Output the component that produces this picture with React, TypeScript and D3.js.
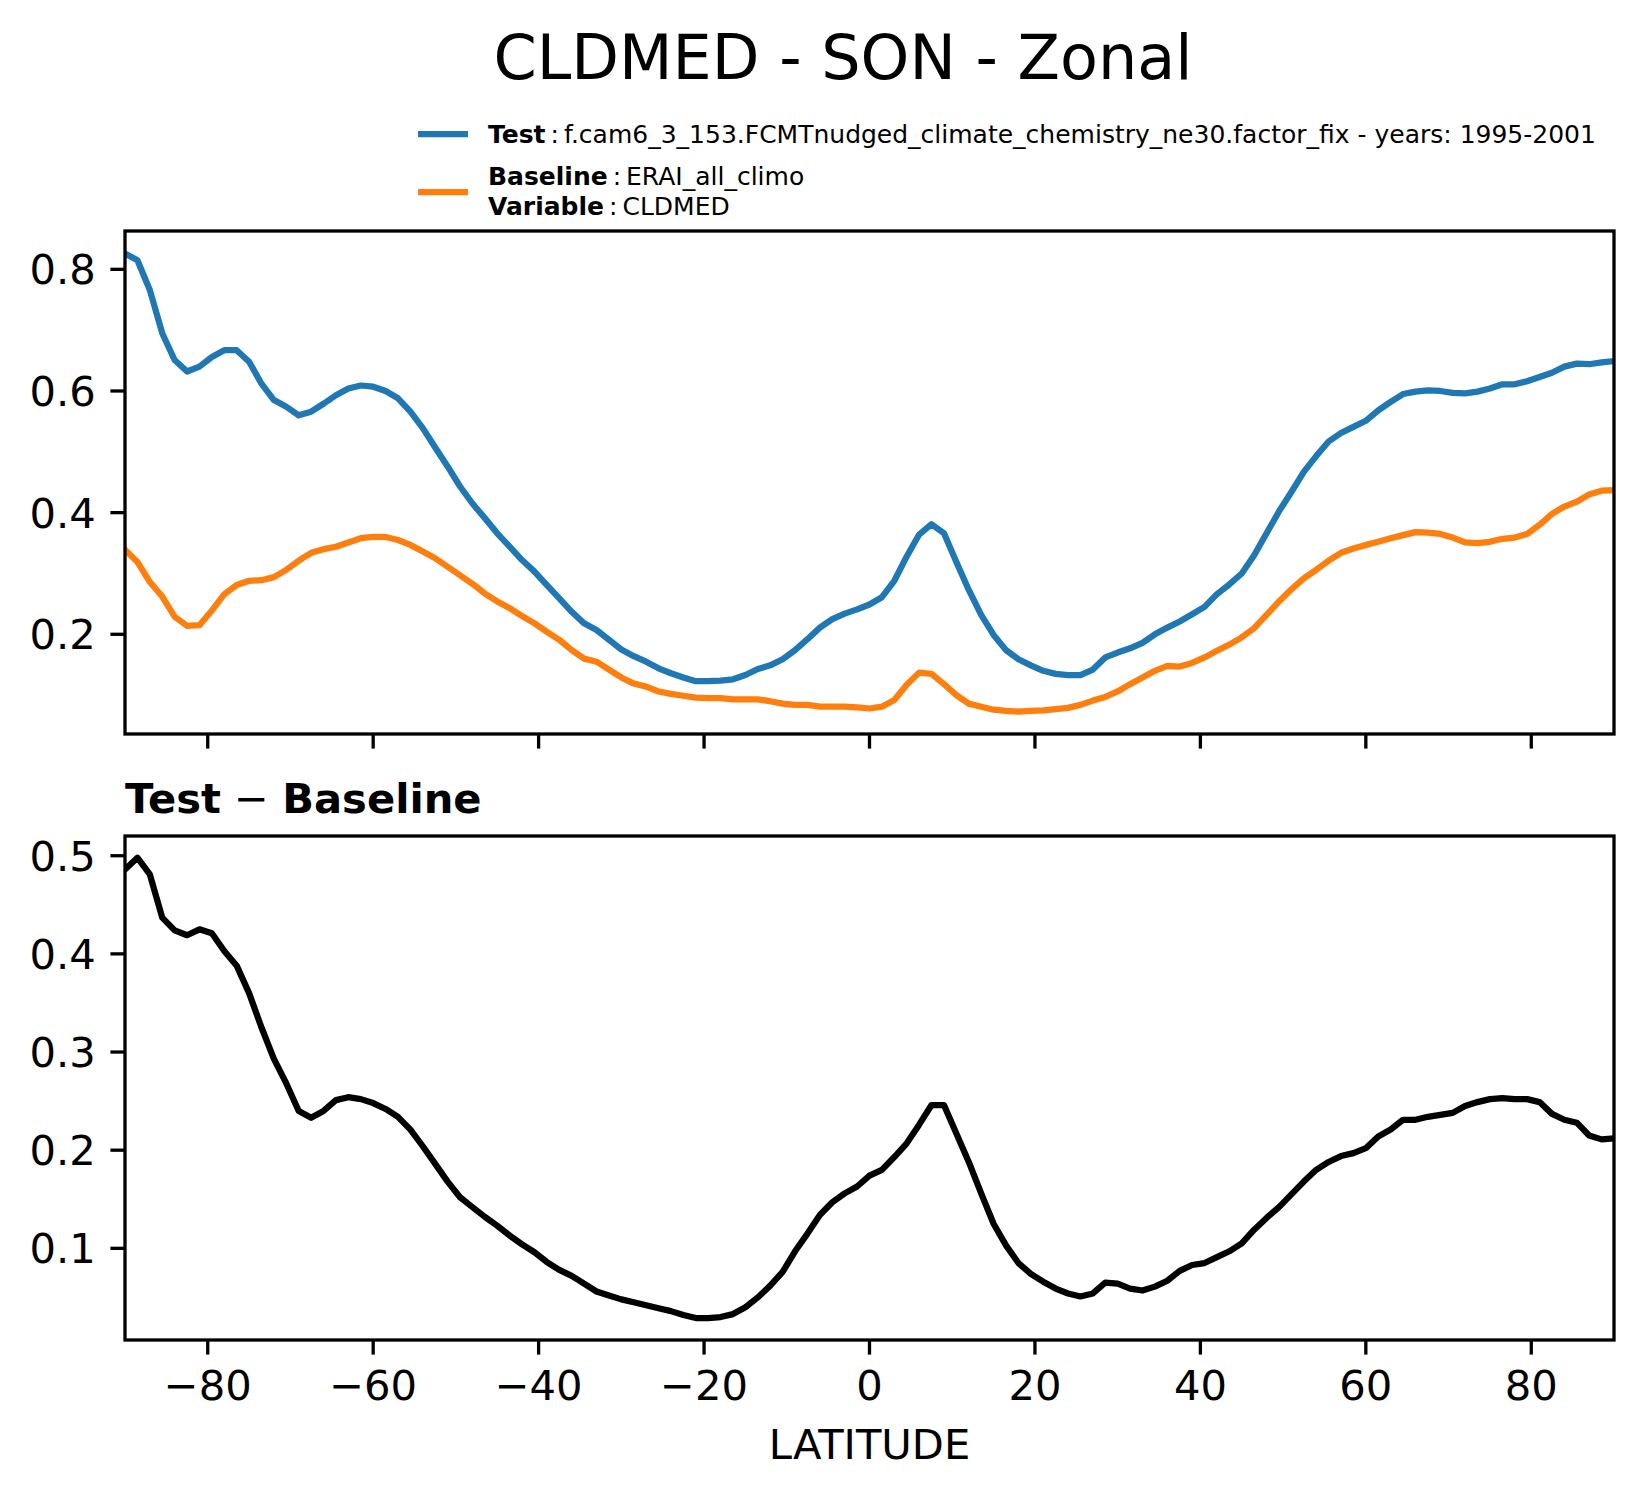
import React from 'react';
import * as d3 from 'd3';

// latitude grid (degrees)
const LAT = [
  -90, -88.5, -87, -85.5, -84, -82.5, -81, -79.5, -78, -76.5,
  -75, -73.5, -72, -70.5, -69, -67.5, -66, -64.5, -63, -61.5,
  -60, -58.5, -57, -55.5, -54, -52.5, -51, -49.5, -48, -46.5,
  -45, -43.5, -42, -40.5, -39, -37.5, -36, -34.5, -33, -31.5,
  -30, -28.5, -27, -25.5, -24, -22.5, -21, -19.5, -18, -16.5,
  -15, -13.5, -12, -10.5, -9, -7.5, -6, -4.5, -3, -1.5,
  0, 1.5, 3, 4.5, 6, 7.5, 9, 10.5, 12, 13.5,
  15, 16.5, 18, 19.5, 21, 22.5, 24, 25.5, 27, 28.5,
  30, 31.5, 33, 34.5, 36, 37.5, 39, 40.5, 42, 43.5,
  45, 46.5, 48, 49.5, 51, 52.5, 54, 55.5, 57, 58.5,
  60, 61.5, 63, 64.5, 66, 67.5, 69, 70.5, 72, 73.5,
  75, 76.5, 78, 79.5, 81, 82.5, 84, 85.5, 87, 88.5,
  90,
];

const TEST = [
  0.826, 0.815, 0.766, 0.695, 0.651, 0.632, 0.640, 0.656, 0.667, 0.667,
  0.648, 0.612, 0.585, 0.574, 0.560, 0.566, 0.579, 0.593, 0.604, 0.609,
  0.607, 0.600, 0.588, 0.566, 0.539, 0.507, 0.476, 0.443, 0.415, 0.391,
  0.366, 0.344, 0.322, 0.303, 0.281, 0.259, 0.237, 0.218, 0.207, 0.191,
  0.175, 0.164, 0.155, 0.144, 0.136, 0.129, 0.123, 0.123, 0.124, 0.126,
  0.133, 0.143, 0.149, 0.159, 0.174, 0.192, 0.211, 0.225, 0.234, 0.241,
  0.249, 0.261, 0.288, 0.328, 0.364, 0.381, 0.366, 0.319, 0.273, 0.232,
  0.199, 0.174, 0.159, 0.149, 0.140, 0.135, 0.133, 0.133, 0.142, 0.162,
  0.170, 0.177, 0.186, 0.200, 0.211, 0.221, 0.233, 0.245, 0.266, 0.282,
  0.300, 0.330, 0.366, 0.402, 0.434, 0.467, 0.493, 0.517, 0.531, 0.541,
  0.551, 0.568, 0.582, 0.595, 0.599, 0.601, 0.600, 0.597, 0.596, 0.599,
  0.604, 0.611, 0.611, 0.616, 0.623, 0.630, 0.640, 0.645, 0.644, 0.647,
  0.649,
];

const BASELINE = [
  0.339, 0.319, 0.286, 0.262, 0.229, 0.214, 0.215, 0.239, 0.266, 0.281,
  0.288, 0.289, 0.294, 0.306, 0.321, 0.334, 0.340, 0.344, 0.351, 0.358,
  0.360, 0.360, 0.355, 0.347, 0.336, 0.325, 0.311, 0.297, 0.283, 0.267,
  0.254, 0.243, 0.230, 0.218, 0.204, 0.191, 0.174, 0.160, 0.155, 0.142,
  0.129, 0.119, 0.114, 0.106, 0.102, 0.099, 0.096, 0.095, 0.095, 0.093,
  0.093, 0.093, 0.090, 0.086, 0.084, 0.084, 0.081, 0.081, 0.081, 0.080,
  0.078, 0.081, 0.092, 0.117, 0.137, 0.135, 0.118, 0.100, 0.086, 0.081,
  0.076, 0.074, 0.073, 0.074, 0.075, 0.077, 0.079, 0.084, 0.091, 0.097,
  0.106, 0.118, 0.129, 0.140, 0.148, 0.147, 0.153, 0.162, 0.173, 0.183,
  0.195, 0.210, 0.232, 0.254, 0.274, 0.292, 0.306, 0.321, 0.334, 0.341,
  0.347, 0.352, 0.358, 0.363, 0.368, 0.367, 0.365, 0.359, 0.351, 0.350,
  0.352, 0.357, 0.359, 0.365, 0.380, 0.398, 0.410, 0.418, 0.430, 0.436,
  0.437,
];

const DIFF = [
  0.486, 0.498, 0.481, 0.437, 0.424, 0.419, 0.425, 0.421, 0.403, 0.388,
  0.360, 0.325, 0.293, 0.268, 0.240, 0.233, 0.240, 0.251, 0.254, 0.252,
  0.248, 0.242, 0.234, 0.221, 0.204, 0.186, 0.168, 0.152, 0.142, 0.132,
  0.123, 0.113, 0.104, 0.096, 0.086, 0.078, 0.072, 0.064, 0.056, 0.052,
  0.048, 0.045, 0.042, 0.039, 0.036, 0.032, 0.029, 0.029, 0.030, 0.033,
  0.040, 0.050, 0.062, 0.076, 0.097, 0.115, 0.134, 0.147, 0.156, 0.163,
  0.174, 0.180, 0.193, 0.207, 0.226, 0.246, 0.246, 0.217, 0.188, 0.156,
  0.125, 0.103, 0.085, 0.074, 0.066, 0.059, 0.054, 0.051, 0.054, 0.065,
  0.064, 0.059, 0.057, 0.061, 0.067, 0.077, 0.083, 0.085, 0.091, 0.097,
  0.105, 0.119, 0.131, 0.142, 0.155, 0.168, 0.180, 0.188, 0.194, 0.197,
  0.202, 0.214, 0.221, 0.231, 0.231, 0.234, 0.236, 0.238, 0.245, 0.249,
  0.252, 0.253, 0.252, 0.252, 0.249, 0.237, 0.231, 0.228, 0.215, 0.211,
  0.212,
];

const X_TICKS = [-80, -60, -40, -20, 0, 20, 40, 60, 80];
const TOP_TICKS = [0.2, 0.4, 0.6, 0.8];
const BOTTOM_TICKS = [0.1, 0.2, 0.3, 0.4, 0.5];

const TITLE = 'CLDMED - SON - Zonal';
const TEST_LABEL = 'f.cam6_3_153.FCMTnudged_climate_chemistry_ne30.factor_fix - years: 1995-2001';
const BASE_LABEL = 'ERAI_all_climo';
const VAR_LABEL = 'CLDMED';

const W = 1643;
const H = 1496;
const FONT = '"DejaVu Sans", Verdana, sans-serif';
const BLUE = '#1f77b4';
const ORANGE = '#ff7f0e';
const LW = 6.25;
const SPINE = 3.3;
const TICK = 14.6;
const PAD = 14.6;
const TICK_FS = 41.67;

const left = 125;
const right = 1614;
const topPanel = { y0: 231, y1: 734 };
const botPanel = { y0: 836, y1: 1340 };

const x = d3.scaleLinear().domain([-90, 90]).range([left, right]);
const yTop = d3.scaleLinear().domain([0.0361, 0.863]).range([topPanel.y1, topPanel.y0]);
const yBot = d3.scaleLinear().domain([0.0066, 0.5201]).range([botPanel.y1, botPanel.y0]);

const fmtX = (v: number) => (v < 0 ? '\u2212' + Math.abs(v) : String(v));

function makeLine(vals: number[], y: d3.ScaleLinear<number, number>) {
  const pts = LAT.map((l, i) => [l, vals[i]] as [number, number]);
  return d3.line<[number, number]>()
    .x(d => x(d[0]))
    .y(d => y(d[1]))(pts) || '';
}

const Panel: React.FC<{
  y0: number; y1: number; yScale: d3.ScaleLinear<number, number>;
  yTicks: number[]; showXLabels: boolean; id: string; children: React.ReactNode;
}> = ({ y0, y1, yScale, yTicks, showXLabels, id, children }) => (
  <g>
    <clipPath id={id}>
      <rect x={left} y={y0} width={right - left} height={y1 - y0} />
    </clipPath>
    <g clipPath={`url(#${id})`}>{children}</g>
    {/* x ticks */}
    {X_TICKS.map(t => (
      <g key={'x' + t}>
        <line x1={x(t)} x2={x(t)} y1={y1} y2={y1 + TICK} stroke="#000" strokeWidth={SPINE} />
        {showXLabels && (
          <text x={x(t)} y={y1 + TICK + PAD + 30.5} textAnchor="middle" fontSize={TICK_FS} fontFamily={FONT}>
            {fmtX(t)}
          </text>
        )}
      </g>
    ))}
    {/* y ticks */}
    {yTicks.map(t => (
      <g key={'y' + t}>
        <line x1={left - TICK} x2={left} y1={yScale(t)} y2={yScale(t)} stroke="#000" strokeWidth={SPINE} />
        <text x={left - TICK - PAD} y={yScale(t) + 15} textAnchor="end" fontSize={TICK_FS} fontFamily={FONT}>
          {t.toFixed(1)}
        </text>
      </g>
    ))}
    <rect x={left} y={y0} width={right - left} height={y1 - y0} fill="none" stroke="#000" strokeWidth={SPINE} />
  </g>
);

const LEG_FS = 25;

export default function App() {
  const legX0 = 418;
  const legX1 = 468;
  const legText = 488;
  return (
    <svg width={W} height={H} viewBox={`0 0 ${W} ${H}`}
      style={{ position: 'absolute', left: 0, top: 0, background: '#fff' }}>
      <rect width={W} height={H} fill="#fff" />
      <text x={843} y={79} textAnchor="middle" fontSize={62} fontFamily={FONT}>{TITLE}</text>

      {/* legend */}
      <line x1={legX0} x2={legX1} y1={134} y2={134} stroke={BLUE} strokeWidth={LW} />
      <text x={legText} y={142.5} fontSize={LEG_FS} fontFamily={FONT}>
        <tspan fontWeight="bold">Test</tspan>
        <tspan>{'\u2009:\u2009' + TEST_LABEL}</tspan>
      </text>
      <line x1={legX0} x2={legX1} y1={192} y2={192} stroke={ORANGE} strokeWidth={LW} />
      <text x={legText} y={184.5} fontSize={LEG_FS} fontFamily={FONT}>
        <tspan fontWeight="bold">Baseline</tspan>
        <tspan>{'\u2009:\u2009' + BASE_LABEL}</tspan>
      </text>
      <text x={legText} y={214.5} fontSize={LEG_FS} fontFamily={FONT}>
        <tspan fontWeight="bold">Variable</tspan>
        <tspan>{'\u2009:\u2009' + VAR_LABEL}</tspan>
      </text>

      <Panel y0={topPanel.y0} y1={topPanel.y1} yScale={yTop} yTicks={TOP_TICKS} showXLabels={false} id="clipTop">
        <path d={makeLine(TEST, yTop)} fill="none" stroke={BLUE} strokeWidth={LW} strokeLinejoin="round" strokeLinecap="square" />
        <path d={makeLine(BASELINE, yTop)} fill="none" stroke={ORANGE} strokeWidth={LW} strokeLinejoin="round" strokeLinecap="square" />
      </Panel>

      <text x={left} y={812.7} fontSize={TICK_FS} fontFamily={FONT}>
        <tspan fontWeight="bold">Test</tspan>
        <tspan>{' \u2212 '}</tspan>
        <tspan fontWeight="bold">Baseline</tspan>
      </text>

      <Panel y0={botPanel.y0} y1={botPanel.y1} yScale={yBot} yTicks={BOTTOM_TICKS} showXLabels={true} id="clipBot">
        <path d={makeLine(DIFF, yBot)} fill="none" stroke="#000" strokeWidth={LW} strokeLinejoin="round" strokeLinecap="square" />
      </Panel>

      <text x={869.5} y={1459} textAnchor="middle" fontSize={TICK_FS} fontFamily={FONT}>LATITUDE</text>
    </svg>
  );
}
